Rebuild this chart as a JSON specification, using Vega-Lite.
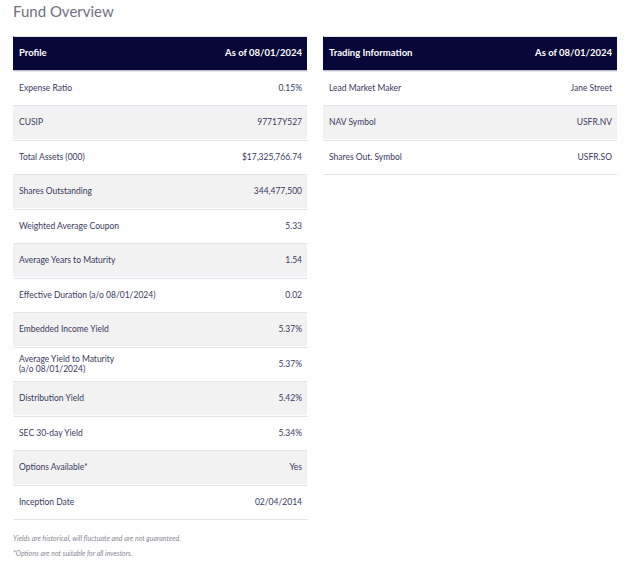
{
  "$schema": "https://vega.github.io/schema/vega-lite/v6.json",
  "background": "white",
  "padding": {"left": 13, "top": 5, "right": 0, "bottom": 0},
  "title": {"text": "Fund Overview", "anchor": "start", "fontSize": 15, "fontWeight": "normal", "color": "#70707f", "font": "Lato", "offset": 16},
  "datasets": {
    "profile": [
      {"i": 0, "label": "Profile", "value": "As of 08/01/2024"},
      {"i": 1, "label": "Expense Ratio", "value": "0.15%"},
      {"i": 2, "label": "CUSIP", "value": "97717Y527"},
      {"i": 3, "label": "Total Assets (000)", "value": "$17,325,766.74"},
      {"i": 4, "label": "Shares Outstanding", "value": "344,477,500"},
      {"i": 5, "label": "Weighted Average Coupon", "value": "5.33"},
      {"i": 6, "label": "Average Years to Maturity", "value": "1.54"},
      {"i": 7, "label": "Effective Duration (a/o 08/01/2024)", "value": "0.02"},
      {"i": 8, "label": "Embedded Income Yield", "value": "5.37%"},
      {"i": 9, "label": "Average Yield to Maturity\n(a/o 08/01/2024)", "value": "5.37%"},
      {"i": 10, "label": "Distribution Yield", "value": "5.42%"},
      {"i": 11, "label": "SEC 30-day Yield", "value": "5.34%"},
      {"i": 12, "label": "Options Available*", "value": "Yes"},
      {"i": 13, "label": "Inception Date", "value": "02/04/2014"}
    ],
    "trading": [
      {"i": 0, "label": "Trading Information", "value": "As of 08/01/2024"},
      {"i": 1, "label": "Lead Market Maker", "value": "Jane Street"},
      {"i": 2, "label": "NAV Symbol", "value": "USFR.NV"},
      {"i": 3, "label": "Shares Out. Symbol", "value": "USFR.SO"}
    ]
  },
  "spacing": 16,
  "hconcat": [
    {
      "data": {"name": "profile"},
      "width": 294,
      "height": {"step": 34.5},
      "title": {"text": ["Yields are historical, will fluctuate and are not guaranteed.", "*Options are not suitable for all investors."], "orient": "bottom", "anchor": "start", "fontSize": 7, "fontStyle": "italic", "fontWeight": "normal", "color": "#8a8a94", "font": "Lato", "lineHeight": 15, "offset": 16},
      "encoding": {
        "y": {"field": "i", "type": "ordinal", "scale": {"paddingInner": 0, "paddingOuter": 0}, "axis": {"labels": false, "ticks": false, "domain": false, "title": null, "grid": true, "tickBand": "extent", "gridColor": "#e4e4e8", "gridWidth": 1, "zindex": 1}}
      },
      "layer": [
        {
          "mark": {"type": "rect"},
          "encoding": {
            "x": {"datum": 0, "type": "quantitative", "scale": {"domain": [0, 1]}, "axis": null},
            "x2": {"datum": 1},
            "fill": {"condition": [{"test": "datum.i == 0", "value": "#07073a"}, {"test": "datum.i % 2 == 0", "value": "#f2f2f2"}], "value": "#ffffff"}
          }
        },
        {
          "transform": [{"filter": "datum.i > 0 && datum.i != 9"}],
          "mark": {"type": "text", "align": "left", "baseline": "middle", "dx": 6, "font": "Lato", "fontSize": 8.5, "color": "#3a3a5e"},
          "encoding": {"x": {"datum": 0, "type": "quantitative"}, "text": {"field": "label"}}
        },
        {
          "transform": [{"filter": "datum.i == 9"}],
          "mark": {"type": "text", "align": "left", "baseline": "middle", "dx": 6, "dy": -5, "font": "Lato", "fontSize": 8.5, "lineBreak": "\n", "lineHeight": 10.5, "color": "#3a3a5e"},
          "encoding": {"x": {"datum": 0, "type": "quantitative"}, "text": {"field": "label"}}
        },
        {
          "transform": [{"filter": "datum.i > 0"}],
          "mark": {"type": "text", "align": "right", "baseline": "middle", "dx": -5, "font": "Lato", "fontSize": 8.5, "color": "#3a3a5e"},
          "encoding": {"x": {"datum": 1, "type": "quantitative"}, "text": {"field": "value"}}
        },
        {
          "transform": [{"filter": "datum.i == 0"}],
          "mark": {"type": "text", "align": "left", "baseline": "middle", "dx": 6, "font": "Lato", "fontSize": 9.5, "fontWeight": "bold", "color": "#ffffff"},
          "encoding": {"x": {"datum": 0, "type": "quantitative"}, "text": {"field": "label"}}
        },
        {
          "transform": [{"filter": "datum.i == 0"}],
          "mark": {"type": "text", "align": "right", "baseline": "middle", "dx": -5, "font": "Lato", "fontSize": 9.5, "fontWeight": "bold", "color": "#ffffff"},
          "encoding": {"x": {"datum": 1, "type": "quantitative"}, "text": {"field": "value"}}
        }
      ]
    },
    {
      "data": {"name": "trading"},
      "width": 294,
      "height": {"step": 34.5},
      "encoding": {
        "y": {"field": "i", "type": "ordinal", "scale": {"paddingInner": 0, "paddingOuter": 0}, "axis": {"labels": false, "ticks": false, "domain": false, "title": null, "grid": true, "tickBand": "extent", "gridColor": "#e4e4e8", "gridWidth": 1, "zindex": 1}}
      },
      "layer": [
        {
          "mark": {"type": "rect"},
          "encoding": {
            "x": {"datum": 0, "type": "quantitative", "scale": {"domain": [0, 1]}, "axis": null},
            "x2": {"datum": 1},
            "fill": {"condition": [{"test": "datum.i == 0", "value": "#07073a"}, {"test": "datum.i % 2 == 0", "value": "#f2f2f2"}], "value": "#ffffff"}
          }
        },
        {
          "transform": [{"filter": "datum.i > 0"}],
          "mark": {"type": "text", "align": "left", "baseline": "middle", "dx": 6, "font": "Lato", "fontSize": 8.5, "color": "#3a3a5e"},
          "encoding": {"x": {"datum": 0, "type": "quantitative"}, "text": {"field": "label"}}
        },
        {
          "transform": [{"filter": "datum.i > 0"}],
          "mark": {"type": "text", "align": "right", "baseline": "middle", "dx": -5, "font": "Lato", "fontSize": 8.5, "color": "#3a3a5e"},
          "encoding": {"x": {"datum": 1, "type": "quantitative"}, "text": {"field": "value"}}
        },
        {
          "transform": [{"filter": "datum.i == 0"}],
          "mark": {"type": "text", "align": "left", "baseline": "middle", "dx": 6, "font": "Lato", "fontSize": 9.5, "fontWeight": "bold", "color": "#ffffff"},
          "encoding": {"x": {"datum": 0, "type": "quantitative"}, "text": {"field": "label"}}
        },
        {
          "transform": [{"filter": "datum.i == 0"}],
          "mark": {"type": "text", "align": "right", "baseline": "middle", "dx": -5, "font": "Lato", "fontSize": 9.5, "fontWeight": "bold", "color": "#ffffff"},
          "encoding": {"x": {"datum": 1, "type": "quantitative"}, "text": {"field": "value"}}
        }
      ]
    }
  ],
  "config": {"view": {"stroke": null}}
}
